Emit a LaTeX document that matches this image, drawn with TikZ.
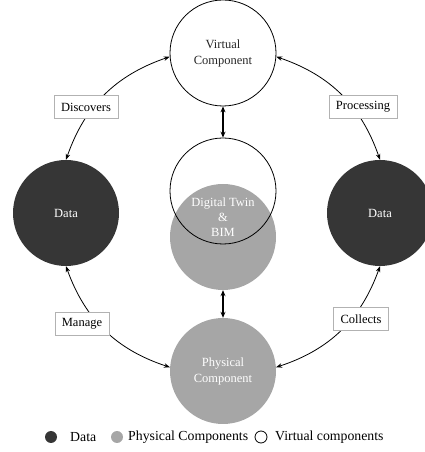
\documentclass[tikz,border=0pt]{standalone}
\usepackage{fontspec}
\setmainfont{Liberation Serif}
\usetikzlibrary{arrows.meta}
\definecolor{dark}{HTML}{363636}
\definecolor{mid}{HTML}{A6A6A6}
\tikzset{
  big/.style={circle, minimum size=106pt, inner sep=0pt, align=center, font=\fontsize{12.5}{16}\selectfont},
  datac/.style={big, fill=dark, text=white},
  physc/.style={big, fill=mid, text=white},
  virtc/.style={big, draw=black, line width=0.8pt, text=black!85},
  lab/.style={draw=black!30, fill=white, line width=0.6pt, inner xsep=7pt, minimum height=23pt, font=\fontsize{12.5}{15}\selectfont},
  conn/.style={{Stealth[length=6pt,width=4.5pt]}-{Stealth[length=6pt,width=4.5pt]}, line width=0.8pt},
  vconn/.style={{Stealth[length=6pt,width=5pt]}-{Stealth[length=6pt,width=5pt]}, line width=1.4pt},
  legc/.style={circle, minimum size=12pt, inner sep=0pt},
  legt/.style={anchor=west, inner sep=0pt, font=\fontsize{13.8}{16}\selectfont}
}
\begin{document}
\begin{tikzpicture}[x=1pt,y=1pt]
\useasboundingbox (0,0) rectangle (424,452);
% main nodes
\node[virtc] (v) at (223,399) {Virtual\\Component};
\node[datac] (dl) at (66,239) {Data};
\node[datac] (dr) at (380,239) {Data};
\node[physc] (p) at (223,81) {Physical\\Component};
% central overlap
\node[circle, minimum size=106pt, inner sep=0pt, fill=mid] (cg) at (223,215) {};
\node[circle, minimum size=106pt, inner sep=0pt, draw=black, line width=0.8pt] (cw) at (223,261) {};
\node[align=center, text=white, font=\fontsize{12.5}{15}\selectfont] (dt) at (223,235) {Digital Twin\\\&\\BIM};
% connectors
\draw[conn] (v.184) to[bend right=26] (dl.north);
\draw[conn] (v.356) to[bend left=26] (dr.north);
\draw[conn] (p.176) to[bend left=26] (dl.south);
\draw[conn] (p.4) to[bend right=26] (dr.south);
\draw[vconn] (v.south) -- (cw.north);
\draw[vconn] (cg.south) -- (p.north);
% labels
\node[lab] (l1) at (86,345) {Discovers};
\node[lab] (l2) at (363,345) {Processing};
\node[lab] (l3) at (82,128) {Manage};
\node[lab] (l4) at (361,133) {Collects};
% legend
\node[legc, fill=dark] (k1) at (51,15) {};
\node[legt] (t1) at (70,15) {Data};
\node[legc, fill=mid] (k2) at (117,15) {};
\node[legt] (t2) at (128,15) {Physical Components};
\node[legc, draw=black, line width=0.8pt] (k3) at (261,15) {};
\node[legt] (t3) at (275,15) {Virtual components};
\end{tikzpicture}
\end{document}
